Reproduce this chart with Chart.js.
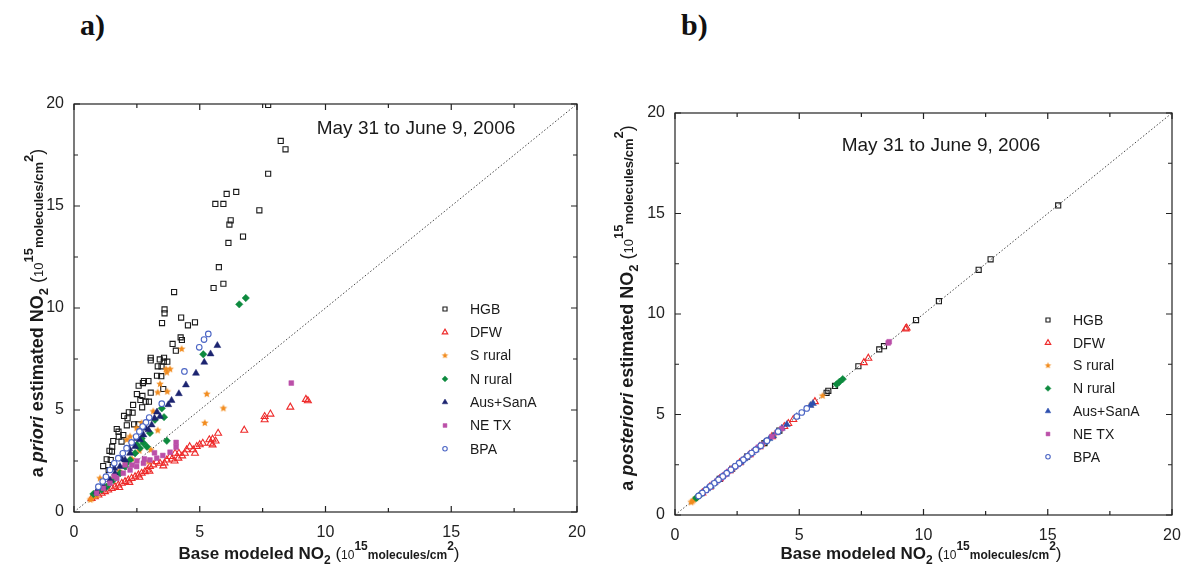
<!DOCTYPE html>
<html>
<head>
<meta charset="utf-8">
<script src="https://cdn.jsdelivr.net/npm/chart.js"></script>
<style>
body { margin: 0; background: #fff; width: 1181px; height: 574px; overflow: hidden; position: relative; }
canvas { position: absolute; top: 0; }
#chartA { left: 0; }
#chartB { left: 590px; }
.panel { position: absolute; top: 8px; font: bold 30px "Liberation Serif", "Times New Roman", serif; color: #111; }
</style>
</head>
<body>
<div class="panel" style="left:80px">a)</div>
<div class="panel" style="left:681px">b)</div>
<canvas id="chartA" width="590" height="574"></canvas>
<canvas id="chartB" width="591" height="574"></canvas>
<script>
// Axis setup
const axisMin = 0;
const axisMax = 20;
const axisStep = 5;
const seriesNames = ["HGB", "DFW", "S rural", "N rural", "Aus+SanA", "NE TX", "BPA"];
const periodLabel = "May 31 to June 9, 2006";

// a) a priori vs base modeled NO2  [x, y]
const hgbPrior = [[7.72,19.95],[8.22,18.19],[8.41,17.78],[7.72,16.58],[6.07,15.59],[6.45,15.69],[5.62,15.10],[5.94,15.10],
  [7.37,14.79],[6.23,14.30],[6.18,14.09],[6.72,13.50],[6.14,13.19],[5.76,12.00],[5.94,11.19],[5.55,10.98],[3.98,10.78],
  [3.60,9.93],[3.60,9.74],[3.50,9.26],[4.26,9.53],[4.53,9.15],[4.81,9.30],[4.24,8.56],[4.29,8.43],[3.92,8.24],[4.05,7.91],
  [3.05,7.56],[3.05,7.43],[3.41,7.48],[3.58,7.56],[3.71,7.37],[3.57,7.37],[3.33,7.14],[3.48,7.14],[3.30,6.68],[3.47,6.66],
  [2.78,6.42],[2.96,6.42],[2.57,6.19],[2.74,6.32],[2.50,5.78],[2.72,5.69],[3.05,5.85],[2.64,5.49],[2.85,5.41],[2.98,5.41],
  [3.55,6.03],[2.35,5.25],[2.71,5.13],[1.99,4.71],[2.18,4.89],[2.33,4.87],[2.13,4.59],[2.39,4.30],[2.56,4.30],[2.10,4.25],
  [1.70,4.07],[1.77,3.94],[1.78,3.69],[1.96,3.77],[1.56,3.48],[1.89,3.45],[1.52,3.20],[1.41,3.00],[1.51,2.96],[1.30,2.58],
  [1.16,2.25],[1.46,2.55],[1.54,2.22],[1.38,2.06]];
const dfwPrior = [[9.30,5.45],[9.22,5.52],[8.60,5.14],[7.81,4.80],[7.58,4.68],[7.58,4.52],[6.77,4.01],[5.73,3.86],[5.63,3.48],
  [5.51,3.57],[5.38,3.54],[5.51,3.29],[5.43,3.37],[5.12,3.37],[4.88,3.21],[4.81,2.88],[4.74,3.05],[4.48,3.05],[4.41,2.88],
  [4.17,2.88],[4.15,2.64],[4.02,2.88],[3.82,2.72],[3.69,2.55],[3.55,2.26],[3.42,2.39],[3.29,2.47],[3.15,2.31],[3.02,2.23],
  [2.92,2.06],[2.82,1.98],[2.69,1.90],[2.56,1.82],[2.43,1.73],[2.29,1.65],[2.16,1.57],[2.03,1.49],[1.90,1.41],[1.76,1.32],
  [1.63,1.24],[1.50,1.16],[1.36,1.08],[1.23,1.00],[1.10,0.92],[0.97,0.83],[0.83,0.75],[0.70,0.67],[3.60,2.40],[3.90,2.60],
  [4.30,2.75],[2.60,1.70],[3.00,2.00],[2.20,1.45],[1.80,1.20],[4.60,3.20],[5.00,3.30],[4.00,2.50]];
const sRuralPrior = [[4.28,7.99],[3.66,7.00],[3.82,7.00],[3.69,6.84],[3.42,6.27],[3.33,5.86],[3.71,5.90],[5.28,5.78],
  [5.94,5.08],[5.20,4.36],[3.15,4.93],[3.33,4.00],[3.05,3.05],[2.69,4.36],[2.49,4.11],[2.23,3.70],[2.10,3.54],[1.03,1.65],
  [0.65,0.60],[0.70,0.65],[0.90,0.80],[2.96,2.47],[1.50,1.60],[1.80,2.00],[2.30,2.60],[2.60,3.00],[0.80,0.78],[1.20,1.30]];
const nRuralPrior = [[6.83,10.49],[6.57,10.18],[5.14,7.73],[3.49,5.08],[3.58,4.65],[3.22,4.52],[3.69,3.49],[3.02,3.87],
  [2.76,3.38],[2.62,3.13],[2.43,2.88],[2.23,2.55],[2.03,2.23],[1.83,1.90],[1.56,1.57],[1.30,1.24],[0.77,0.88],[2.69,3.60],
  [2.50,3.30],[2.90,3.20],[2.10,2.40],[1.10,1.10],[0.90,0.95]];
const ausPrior = [[5.70,8.16],[5.43,7.75],[5.18,7.34],[4.85,6.80],[4.45,6.23],[4.17,5.80],[3.88,5.47],[3.75,5.26],[3.42,4.68],
  [3.09,4.27],[2.96,4.03],[2.76,3.78],[2.62,3.54],[2.43,3.21],[2.23,2.88],[2.03,2.55],[1.83,2.23],[1.63,1.90],[1.43,1.57],
  [1.17,1.24],[0.90,1.00],[3.20,4.60],[2.85,4.10],[2.50,3.60],[2.20,3.10],[1.90,2.60],[1.60,2.15],[1.30,1.70],[3.30,4.90]];
const neTxPrior = [[8.64,6.32],[4.06,3.41],[4.06,3.18],[3.82,2.93],[3.53,2.77],[3.29,2.64],[3.02,2.55],[2.76,2.39],
  [2.49,2.23],[2.23,2.06],[1.96,1.90],[1.70,1.65],[1.43,1.41],[1.17,1.16],[0.90,0.92],[2.03,2.31],[2.50,2.50],[3.20,2.90],
  [2.80,2.60],[1.60,1.75],[2.30,2.30]];
const bpaPrior = [[5.34,8.73],[5.17,8.45],[4.98,8.07],[4.39,6.89],[3.49,5.31],[2.99,4.63],[2.86,4.39],[2.73,4.19],
  [2.60,3.95],[2.47,3.70],[2.29,3.41],[2.09,3.13],[1.94,2.88],[1.76,2.64],[1.60,2.39],[1.43,2.06],[1.27,1.73],[1.14,1.49],
  [0.97,1.24]];

// b) a posteriori vs base modeled NO2  [x, y]
const hgbPost = [[15.42,15.40],[12.70,12.72],[12.22,12.20],[10.62,10.64],[9.70,9.70],[8.41,8.40],[8.22,8.24],[7.38,7.40],
  [6.44,6.42],[6.17,6.18],[6.10,6.08],[4.20,4.20],[3.60,3.58],[2.90,2.90],[2.30,2.30],[1.80,1.80]];
const dfwPost = [[9.32,9.30],[9.28,9.26],[7.78,7.80],[7.60,7.58],[5.63,5.64],[4.76,4.75],[4.56,4.55],[4.40,4.40],
  [3.90,3.90],[3.40,3.40],[3.00,3.00],[2.60,2.60],[2.20,2.20],[1.80,1.80],[1.40,1.40],[1.10,1.10]];
const sRuralPost = [[5.94,5.93],[3.55,3.55],[0.65,0.63],[0.70,0.68],[0.75,0.74],[0.85,0.84],[1.00,1.00],[1.60,1.60],
  [2.40,2.40],[3.10,3.10],[4.00,4.00],[5.50,5.50]];
const nRuralPost = [[6.75,6.76],[6.61,6.62],[6.50,6.50],[3.70,3.70],[3.30,3.30],[0.85,0.84],[0.90,0.89],[0.95,0.95],
  [1.05,1.05],[2.00,2.00],[2.80,2.80]];
const ausPost = [[5.55,5.55],[5.45,5.45],[4.90,4.90],[4.50,4.50],[4.30,4.32],[4.10,4.10],[3.95,3.93],[3.80,3.80],
  [3.60,3.62],[3.40,3.40],[3.25,3.23],[3.10,3.10],[2.95,2.97],[2.80,2.80],[2.65,2.63],[2.50,2.50],[2.35,2.37],
  [2.20,2.20],[2.05,2.03],[1.90,1.90],[1.75,1.77],[1.60,1.60],[1.45,1.43],[1.30,1.30],[1.20,1.22],[1.05,1.05]];
const neTxPost = [[8.62,8.62],[8.58,8.56],[4.30,4.30],[4.10,4.10],[3.90,3.90],[3.70,3.70],[3.50,3.50],[3.35,3.37],
  [3.20,3.20],[3.05,3.03],[2.90,2.90],[2.75,2.77],[2.60,2.60],[2.45,2.43],[2.30,2.30],[2.15,2.17],[2.00,2.00],
  [1.85,1.83],[1.70,1.70],[1.55,1.57],[1.40,1.40],[1.25,1.23],[1.10,1.10]];
const bpaPost = [[5.30,5.30],[5.10,5.10],[4.90,4.90],[4.15,4.15],[3.70,3.70],[3.45,3.45],[3.25,3.25],[3.08,3.08],
  [2.92,2.92],[2.75,2.75],[2.58,2.58],[2.42,2.42],[2.25,2.25],[2.08,2.08],[1.92,1.92],[1.75,1.75],[1.58,1.58],
  [1.42,1.42],[1.25,1.25],[1.10,1.10],[0.95,0.95]];

const FONT = '"Liberation Sans", Arial, sans-serif';

function starImage(color, r) {
    const c = document.createElement('canvas');
    const s = Math.ceil(r * 2) + 2;
    c.width = c.height = s;
    const g = c.getContext('2d');
    g.fillStyle = color;
    g.beginPath();
    for (let i = 0; i < 10; i++) {
        const rr = i % 2 ? r * 0.45 : r;
        const a = -Math.PI / 2 + i * Math.PI / 5;
        g.lineTo(s / 2 + rr * Math.cos(a), s / 2 + rr * Math.sin(a));
    }
    g.closePath();
    g.fill();
    return c;
}

// marker look per series (same order as seriesNames)
function seriesStyles(ausColor) {
    return [
        {pointStyle: 'rect', radius: 3.6, fill: 'rgba(0,0,0,0)', stroke: '#1a1a1a', bw: 1.1},
        {pointStyle: 'triangle', radius: 4, fill: 'rgba(0,0,0,0)', stroke: '#ee2a2a', bw: 1.1},
        {pointStyle: starImage('#f28c1e', 4), legendStar: starImage('#f28c1e', 3.4), radius: 4, fill: '#f28c1e', stroke: '#f28c1e', bw: 0},
        {pointStyle: 'rectRot', radius: 3.7, fill: '#0d8a3e', stroke: '#0d8a3e', bw: 0.5},
        {pointStyle: 'triangle', radius: 4, fill: ausColor, stroke: ausColor, bw: 0.5},
        {pointStyle: 'rect', radius: 3.4, fill: '#bb4fa8', stroke: '#bb4fa8', bw: 0.5},
        {pointStyle: 'circle', radius: 2.8, fill: '#ffffff', stroke: '#4a64c4', bw: 1.1}
    ];
}

function drawMarker(ctx, st, x, y, r) {
    ctx.save();
    ctx.fillStyle = st.fill;
    ctx.strokeStyle = st.stroke;
    ctx.lineWidth = st.bw || 1;
    ctx.beginPath();
    if (st.legendStar) {
        ctx.drawImage(st.legendStar, x - st.legendStar.width / 2, y - st.legendStar.height / 2);
        ctx.restore();
        return;
    }
    if (st.pointStyle === 'rect') {
        const h = r * Math.SQRT1_2;
        ctx.rect(x - h, y - h, 2 * h, 2 * h);
    } else if (st.pointStyle === 'triangle') {
        for (let i = 0; i < 3; i++) {
            const a = i * 2 * Math.PI / 3;
            ctx.lineTo(x + Math.sin(a) * r, y - Math.cos(a) * r);
        }
        ctx.closePath();
    } else if (st.pointStyle === 'rectRot') {
        ctx.moveTo(x, y - r); ctx.lineTo(x + r, y); ctx.lineTo(x, y + r); ctx.lineTo(x - r, y); ctx.closePath();
    } else {
        ctx.arc(x, y, r, 0, Math.PI * 2);
    }
    ctx.fill();
    if (st.bw) ctx.stroke();
    ctx.restore();
}

// rich text: [text, font, dy]
function richWidth(ctx, segs) {
    let w = 0;
    segs.forEach(s => { ctx.font = s[1] + ' ' + FONT; w += ctx.measureText(s[0]).width; });
    return w;
}
function drawRich(ctx, segs, cx, baseY, rotate) {
    ctx.save();
    ctx.translate(cx, baseY);
    if (rotate) ctx.rotate(-Math.PI / 2);
    let x = -richWidth(ctx, segs) / 2;
    ctx.fillStyle = '#1a1a1a';
    ctx.textBaseline = 'alphabetic';
    ctx.textAlign = 'left';
    segs.forEach(s => {
        ctx.font = s[1] + ' ' + FONT;
        ctx.fillText(s[0], x, s[2]);
        x += ctx.measureText(s[0]).width;
    });
    ctx.restore();
}

const unitSegs = [[' (', '17px', 0], ['10', '12px', 0], ['15', 'bold 12px', -9], ['molecules/cm', 'bold 12px', 0], ['2', 'bold 12px', -9], [')', '17px', 0]];
const unitSegsY = [[' (', '18px', 0], ['10', '13px', 0], ['15', 'bold 13px', -10], ['molecules/cm', 'bold 13px', 0], ['2', 'bold 13px', -10], [')', '18px', 0]];
const xTitleSegs = [['Base modeled NO', 'bold 17px', 0], ['2', 'bold 12px', 5]].concat(unitSegs);

const panelDecor = {
    id: 'panelDecor',
    afterDraw(chart, args, o) {
        const {ctx, chartArea: a, scales: {x, y}} = chart;
        ctx.save();
        ctx.strokeStyle = '#222';
        ctx.lineWidth = 1.2;
        ctx.strokeRect(a.left, a.top, a.right - a.left, a.bottom - a.top);
        // inward ticks on all four sides
        const vals = x.ticks.map(t => t.value);
        const marks = [];
        vals.forEach((v, i) => {
            marks.push([v, 6]);
            if (i < vals.length - 1) marks.push([(v + vals[i + 1]) / 2, 4]);
        });
        ctx.beginPath();
        marks.forEach(([v, len]) => {
            const px = x.getPixelForValue(v);
            ctx.moveTo(px, a.bottom); ctx.lineTo(px, a.bottom - len);
            ctx.moveTo(px, a.top); ctx.lineTo(px, a.top + len);
            const py = y.getPixelForValue(v);
            ctx.moveTo(a.left, py); ctx.lineTo(a.left + len, py);
            ctx.moveTo(a.right, py); ctx.lineTo(a.right - len, py);
        });
        ctx.stroke();

        // period label
        ctx.fillStyle = '#1a1a1a';
        ctx.font = '19px ' + FONT;
        ctx.textAlign = 'center';
        ctx.textBaseline = 'alphabetic';
        ctx.fillText(periodLabel, o.periodX, o.periodY);

        // legend
        ctx.font = '14px ' + FONT;
        ctx.textAlign = 'left';
        ctx.textBaseline = 'middle';
        o.styles.forEach((st, i) => {
            const ly = o.legendY + i * o.legendStep;
            drawMarker(ctx, st, o.legendX, ly, st.radius * 0.8);
            ctx.fillStyle = '#1a1a1a';
            ctx.fillText(seriesNames[i], o.legendX + 25, ly + 1);
        });

        // axis titles
        drawRich(ctx, xTitleSegs, o.xTitleX, o.xTitleY, false);
        drawRich(ctx, o.yTitleSegs, o.yTitleX, o.yTitleMid, true);
        ctx.restore();
    }
};

function buildChart(id, seriesData, styles, box, decor) {
    const datasets = [{
        label: '1:1',
        data: [{x: axisMin, y: axisMin}, {x: axisMax, y: axisMax}],
        showLine: true,
        borderColor: '#444',
        borderWidth: 1,
        borderDash: [1.5, 2],
        pointRadius: 0,
        order: 20
    }];
    seriesData.forEach((pts, i) => {
        const st = styles[i];
        datasets.push({
            label: seriesNames[i],
            data: pts.map(p => ({x: p[0], y: p[1]})),
            pointStyle: st.pointStyle,
            pointRadius: st.radius,
            backgroundColor: st.fill,
            borderColor: st.stroke,
            borderWidth: st.bw,
            order: 10 - i
        });
    });
    const tickFont = {family: FONT, size: 16};
    return new Chart(document.getElementById(id), {
        type: 'scatter',
        data: {datasets},
        options: {
            responsive: false,
            animation: false,
            devicePixelRatio: 1,
            layout: {padding: {left: 0, top: box.top, right: box.right, bottom: 0}},
            plugins: {
                legend: {display: false},
                tooltip: {enabled: false},
                panelDecor: decor
            },
            scales: {
                x: {
                    type: 'linear', min: axisMin, max: axisMax,
                    grid: {display: false, drawTicks: false},
                    border: {display: false},
                    ticks: {stepSize: axisStep, font: tickFont, color: '#222', padding: box.xPad, maxRotation: 0},
                    afterFit(scale) {
                        scale.height = box.xHeight;
                        scale.paddingLeft = 0;
                        scale.paddingRight = 0;
                    }
                },
                y: {
                    type: 'linear', min: axisMin, max: axisMax,
                    grid: {display: false, drawTicks: false},
                    border: {display: false},
                    ticks: {stepSize: axisStep, font: tickFont, color: '#222', padding: box.yPad},
                    afterFit(scale) {
                        scale.width = box.yWidth;
                        scale.paddingTop = 0;
                        scale.paddingBottom = 0;
                    }
                }
            }
        },
        plugins: [panelDecor]
    });
}

const stylesA = seriesStyles('#1c2470');
const stylesB = seriesStyles('#2d4fae');

buildChart('chartA',
    [hgbPrior, dfwPrior, sRuralPrior, nRuralPrior, ausPrior, neTxPrior, bpaPrior],
    stylesA,
    {top: 104, right: 13, xHeight: 62, yWidth: 74, xPad: 11, yPad: 10},
    {
        styles: stylesA, periodX: 416, periodY: 134,
        legendX: 445, legendY: 309, legendStep: 23.3,
        xTitleX: 319, xTitleY: 559, yTitleX: 43, yTitleMid: 313,
        yTitleSegs: [['a ', 'bold 18px', 0], ['priori', 'bold italic 18px', 0], [' estimated NO', 'bold 18px', 0], ['2', 'bold 13px', 5]].concat(unitSegsY)
    });

buildChart('chartB',
    [hgbPost, dfwPost, sRuralPost, nRuralPost, ausPost, neTxPost, bpaPost],
    stylesB,
    {top: 113, right: 9, xHeight: 59, yWidth: 85, xPad: 11, yPad: 10},
    {
        styles: stylesB, periodX: 351, periodY: 151,
        legendX: 458, legendY: 320, legendStep: 22.8,
        xTitleX: 331, xTitleY: 559, yTitleX: 43, yTitleMid: 308,
        yTitleSegs: [['a ', 'bold 18px', 0], ['posteriori', 'bold italic 18px', 0], [' estimated NO', 'bold 18px', 0], ['2', 'bold 13px', 5]].concat(unitSegsY)
    });
</script>
</body>
</html>
